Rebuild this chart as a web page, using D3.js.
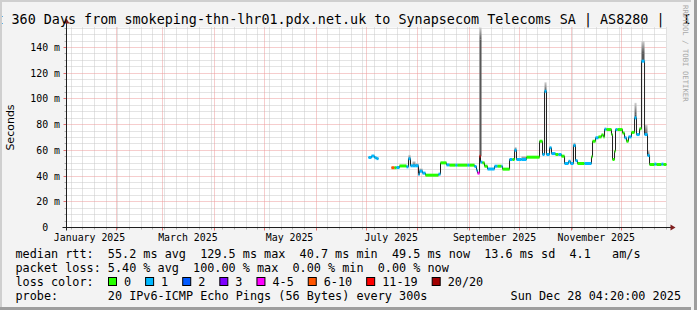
<!DOCTYPE html>
<html>
<head>
<meta charset="utf-8">
<script src="https://cdn.jsdelivr.net/npm/d3@7"></script>
<style type="text/css">
	body { margin: 0; background: #f3f3f3; }
	svg text { font-family: "DejaVu Sans Mono", monospace; white-space: pre; fill: #000; }
	.ylab { font-family: "DejaVu Sans", sans-serif; }
</style>
</head>
<body>
<div id="chart"></div>
<script>

// median rtt steps (time the step starts, value in ms)
var stepTimes = [
	"2025-07-02T09","2025-07-04T04","2025-07-06T00","2025-07-07T04","2025-07-08T09",
	"2025-07-16T04","2025-07-18T00","2025-07-19T04","2025-07-21T00","2025-07-25T04",
	"2025-07-26T09","2025-07-27T14","2025-07-28T19","2025-07-30T14","2025-08-01T09",
	"2025-08-02T00","2025-08-03T19","2025-08-05T14","2025-08-13T09","2025-08-14T14",
	"2025-08-18T04","2025-08-20T00","2025-08-23T14","2025-08-24T19","2025-08-30T19",
	"2025-09-01T00","2025-09-04T00","2025-09-05T04","2025-09-05T19","2025-09-07T00",
	"2025-09-07T14","2025-09-08T19","2025-09-10T00","2025-09-11T19","2025-09-16T00",
	"2025-09-17T19","2025-09-20T04","2025-09-20T19","2025-09-25T00","2025-09-26T19",
	"2025-09-28T00","2025-09-29T04","2025-10-02T04","2025-10-05T04","2025-10-13T00",
	"2025-10-14T19","2025-10-16T00","2025-10-17T04","2025-10-19T00","2025-10-20T04",
	"2025-10-22T14","2025-10-24T09","2025-10-26T04","2025-10-28T00","2025-10-30T09",
	"2025-10-31T14","2025-11-02T09","2025-11-03T14","2025-11-04T19","2025-11-09T00",
	"2025-11-13T04","2025-11-13T19","2025-11-15T14","2025-11-17T09","2025-11-19T04",
	"2025-11-20T09","2025-11-21T00","2025-11-22T04","2025-11-25T04","2025-11-25T19",
	"2025-11-27T00","2025-11-27T14","2025-11-28T19","2025-12-01T19","2025-12-03T00",
	"2025-12-04T04","2025-12-05T09","2025-12-07T04","2025-12-09T00","2025-12-10T04",
	"2025-12-12T00","2025-12-13T04","2025-12-15T00","2025-12-16T19","2025-12-18T00",
	"2025-12-21T00","2025-12-22T04","2025-12-25T04","2025-12-26T09","2025-12-28T04"
];
var medianMs = [
	54.5, 55.6, 54.3, 53.6, null,
	46.5, 46.5, 46.7, 47.9, 47.2,
	53.5, 48.0, 48.0, 48.0, 41.2,
	43.8, 42.3, 40.7, 41.5, 50.3,
	48.7, 48.5, 48.5, 48.5, 48.5,
	48.5, 47.5, 44.6, 42.3, 55.5,
	50.8, 50.3, 47.7, 45.5, 47.7,
	47.7, 47.7, 45.4, 52.9, 52.9,
	60.1, 52.9, 52.9, 54.7, 67.1,
	56.8, 106.0, 56.8, 62.0, 57.5,
	56.8, 56.8, 55.5, 49.8, 51.5,
	49.8, 63.8, 52.0, 49.8, 49.8,
	55.0, 67.1, 69.8, 70.5, 72.0,
	70.5, 76.5, 76.2, 72.3, 52.9,
	59.4, 76.2, 76.2, 73.5, 69.8,
	67.1, 70.5, 74.0, 85.3, 72.3,
	76.8, 129.4, 72.3, 56.0, 49.0,
	49.3, 49.0, 49.3, 49.0, null
];
// index into lossLabels / lossColors
var lossIdx = [
	1, 1, 1, 1, null,
	5, 0, 1, 0, 1,
	1, 1, 1, 1, 1,
	1, 1, 0, 1, 0,
	1, 0, 1, 0, 1,
	0, 1, 1, 4, 6,
	1, 0, 0, 1, 1,
	0, 1, 0, 1, 0,
	1, 1, 1, 0, 0,
	1, 1, 1, 1, 1,
	0, 1, 0, 1, 1,
	1, 1, 1, 0, 1,
	0, 0, 1, 0, 0,
	0, 1, 0, 0, 0,
	0, 1, 0, 0, 1,
	0, 1, 0, 1, 1,
	0, 1, 1, 1, 0,
	1, 0, 1, 0, null
];
// top of the smoke where it shows above the median (ms)
var smokeTopMs = [
	null, null, null, null, null,
	null, null, null, null, null,
	56.5, null, 51.5, 50.0, null,
	46.0, null, null, null, null,
	null, null, null, null, null,
	null, null, null, null, 160,
	null, null, null, null, null,
	null, null, null, null, null,
	62.5, null, 55.5, null, null,
	null, 113, null, null, null,
	null, null, null, null, null,
	null, 66, null, null, null,
	null, null, null, null, null,
	null, null, null, null, null,
	null, null, null, null, null,
	null, null, null, 97, null,
	null, 145, 80, 60, null,
	null, null, null, null, null
];

var lossLabels = ["0", "1", "2", "3", "4-5", "6-10", "11-19", "20/20"];
var lossColors = ["#26ff00", "#00b8ff", "#0059ff", "#7e00ff", "#ff00ff", "#ff5500", "#ff0000", "#a10000"];

var yTicks = [0, 20, 40, 60, 80, 100, 120, 140];
var monthLabels = ["2025-01-16", "2025-03-16", "2025-05-16", "2025-07-16", "2025-09-16", "2025-11-16"];

var titleText = "Last 360 Days from smokeping-thn-lhr01.pdx.net.uk to Synapsecom Telecoms SA | AS8280 |";
var titleTail = "IPv6";
var legendRows = [
	"median rtt:  55.2 ms avg  129.5 ms max  40.7 ms min  49.5 ms now  13.6 ms sd  4.1   am/s",
	"packet loss: 5.40 % avg  100.00 % max  0.00 % min  0.00 % now",
	"loss color:",
	"probe:       20 IPv6-ICMP Echo Pings (56 Bytes) every 300s"
];
var stampText = "Sun Dec 28 04:20:00 2025";

var W = 697, H = 310;
var x0 = 66.5, x1 = 666.5, yB = 227.5, yT = 27.5;
var parseT = d3.timeParse("%Y-%m-%dT%H");
var parseD = d3.timeParse("%Y-%m-%d");
var tStart = new Date(2025, 0, 2, 4, 20), tEnd = new Date(2025, 11, 28, 4, 20);

var x = d3.scaleTime().domain([tStart, tEnd]).range([x0, x1]);
var y = d3.scaleLinear().domain([0, 155.6]).range([yB, yT]);

var svg = d3.select("#chart").append("svg")
	.attr("width", W).attr("height", H);

svg.append("rect").attr("width", W).attr("height", H).attr("fill", "#f3f3f3");

// canvas
svg.append("rect").attr("x", x0).attr("y", yT).attr("width", x1 - x0).attr("height", yB - yT).attr("fill", "#fff");

var grid = svg.append("g");
var crisp = function(v) { return Math.floor(v) + 0.5; };

// minor horizontal grid every 5 ms
d3.range(5, 156, 5).filter(function(v) { return v % 20 != 0; }).forEach(function(v) {
	var yy = crisp(y(v));
	grid.append("line").attr("x1", x0 - 2).attr("x2", x0).attr("y1", yy).attr("y2", yy).attr("stroke", "#b0b0b0");
	grid.append("line").attr("x1", x0).attr("x2", x1).attr("y1", yy).attr("y2", yy)
		.attr("stroke", "#c8c8c8").attr("stroke-dasharray", "1,1");
});
// weekly vertical grid
d3.timeSunday.range(tStart, tEnd).forEach(function(t) {
	if (t.getDate() == 1) return;
	var xx = crisp(x(t));
	grid.append("line").attr("x1", xx).attr("x2", xx).attr("y1", yB).attr("y2", yB + 2).attr("stroke", "#b0b0b0");
	grid.append("line").attr("x1", xx).attr("x2", xx).attr("y1", yT).attr("y2", yB)
		.attr("stroke", "#c8c8c8").attr("stroke-dasharray", "1,1");
});
// major grid
yTicks.forEach(function(v) {
	if (v == 0) return;
	var yy = crisp(y(v));
	grid.append("line").attr("x1", x0 - 3).attr("x2", x0).attr("y1", yy).attr("y2", yy).attr("stroke", "#e07070");
	grid.append("line").attr("x1", x0).attr("x2", x1).attr("y1", yy).attr("y2", yy)
		.attr("stroke", "#ec9a9a").attr("stroke-dasharray", "1,1");
});
d3.timeMonth.range(tStart, tEnd).forEach(function(t) {
	var xx = crisp(x(t));
	grid.append("line").attr("x1", xx).attr("x2", xx).attr("y1", yB).attr("y2", yB + 3).attr("stroke", "#e07070");
	grid.append("line").attr("x1", xx).attr("x2", xx).attr("y1", yT).attr("y2", yB)
		.attr("stroke", "#ec9a9a").attr("stroke-dasharray", "1,1");
});

// smoke: dark body with a fading cap
var defs = svg.append("defs");
var grad = defs.append("linearGradient").attr("id", "smoke").attr("x1", 0).attr("x2", 0).attr("y1", 0).attr("y2", 1);
grad.append("stop").attr("offset", "0%").attr("stop-color", "#d0d0d0");
grad.append("stop").attr("offset", "100%").attr("stop-color", "#585858");

var times = stepTimes.map(parseT);
var plot = svg.append("g");
for (var i = 0; i < times.length - 1; i++) {
	if (smokeTopMs[i] == null) continue;
	var smokeY = Math.max(y(smokeTopMs[i]), yT);
	var baseY = y(medianMs[i]);
	var capH = Math.min(12, baseY - smokeY);
	var xa = x(times[i]), xb = Math.max(x(times[i + 1]), xa + 2);
	plot.append("rect").attr("x", xa).attr("width", xb - xa)
		.attr("y", smokeY + capH).attr("height", baseY - smokeY - capH)
		.attr("fill", "#585858");
	plot.append("rect").attr("x", xa).attr("width", xb - xa)
		.attr("y", smokeY).attr("height", capH)
		.attr("fill", "url(#smoke)");
}

// median line: black steps, loss coloured runs on top
var pts = [];
for (var i = 0; i < times.length - 1; i++) {
	if (medianMs[i] == null) { pts.push(null); continue; }
	pts.push({ t: times[i], v: medianMs[i] }, { t: times[i + 1], v: medianMs[i] });
}
plot.append("path").datum(pts)
	.attr("fill", "none").attr("stroke", "#202020").attr("stroke-width", 1)
	.attr("d", d3.line().defined(function(d) { return d != null; })
		.x(function(d) { return x(d.t); }).y(function(d) { return y(d.v); }));

for (var i = 0; i < times.length - 1; i++) {
	if (medianMs[i] == null) continue;
	plot.append("line")
		.attr("x1", x(times[i])).attr("x2", x(times[i + 1]))
		.attr("y1", y(medianMs[i])).attr("y2", y(medianMs[i]))
		.attr("stroke", lossColors[lossIdx[i]]).attr("stroke-width", 3);
}

// axes
svg.append("line").attr("x1", x0 - 4).attr("x2", x1 + 5).attr("y1", yB).attr("y2", yB).attr("stroke", "#1f1f1f");
svg.append("line").attr("x1", x0).attr("x2", x0).attr("y1", yB + 3).attr("y2", yT - 5).attr("stroke", "#1f1f1f");
svg.append("path").attr("d", "M" + (x1 + 9) + "," + yB + "l-5,-3l0,6z").attr("fill", "#801f1f");
svg.append("path").attr("d", "M" + x0 + "," + (yT - 9) + "l-3,5l6,0z").attr("fill", "#801f1f");

// y tick labels
svg.append("g").selectAll("text").data(yTicks).enter().append("text")
	.attr("x", 60).attr("y", function(d) { return y(d) + 3.5; })
	.attr("text-anchor", "end").style("font-size", "9.9px")
	.text(function(d) { return d == 0 ? "0  " : d + " m"; });

// x labels
svg.append("g").selectAll("text").data(monthLabels).enter().append("text")
	.attr("x", function(d) { return x(parseD(d)); }).attr("y", 241)
	.attr("text-anchor", "middle").style("font-size", "9.9px")
	.text(function(d) { return d3.timeFormat("%B %Y")(parseD(d)); });

svg.append("text").attr("class", "ylab")
	.attr("transform", "translate(14," + ((yT + yB) / 2) + ") rotate(-90)")
	.attr("text-anchor", "middle").style("font-size", "11px")
	.text("Seconds");

// title (runs past both edges, as in the original)
svg.append("text").attr("x", -28.8).attr("y", 24).style("font-size", "13.4px").text(titleText);
svg.append("text").attr("x", 682.5).attr("y", 24).style("font-size", "13.4px").text(titleTail);

svg.append("text")
	.attr("transform", "translate(683,5) rotate(90)")
	.style("font-size", "7.3px").style("fill", "#a8a8a8")
	.text("RRDTOOL / TOBI OETIKER");

// frame shading
svg.append("rect").attr("x", 0).attr("y", 0).attr("width", W).attr("height", 2).attr("fill", "#cfcfcf");
svg.append("rect").attr("x", 0).attr("y", 0).attr("width", 2).attr("height", H).attr("fill", "#cfcfcf");
svg.append("rect").attr("x", 0).attr("y", H - 3).attr("width", W).attr("height", 3).attr("fill", "#9e9e9e");
svg.append("rect").attr("x", 691).attr("y", 0).attr("width", W - 691).attr("height", H).attr("fill", "#f3f3f3");
svg.append("rect").attr("x", W - 3).attr("y", 0).attr("width", 3).attr("height", H).attr("fill", "#9e9e9e");

// legend
var rowY = [258.3, 272.3, 286, 300];
legendRows.forEach(function(r, i) {
	svg.append("text").attr("x", 15.5).attr("y", rowY[i]).style("font-size", "11.8px").text(r);
});
var bx = 108.5;
lossLabels.forEach(function(l, i) {
	svg.append("rect").attr("x", bx).attr("y", 277.5).attr("width", 8).attr("height", 8)
		.attr("fill", lossColors[i]).attr("stroke", "#000");
	var t = svg.append("text").attr("x", bx + 15.5).attr("y", rowY[2]).style("font-size", "11.8px").text(l);
	bx = bx + 15.5 + t.node().getComputedTextLength() + 14.5;
});
svg.append("text").attr("x", 681).attr("y", rowY[3]).attr("text-anchor", "end")
	.style("font-size", "11.8px").text(stampText);

</script>
</body>
</html>
